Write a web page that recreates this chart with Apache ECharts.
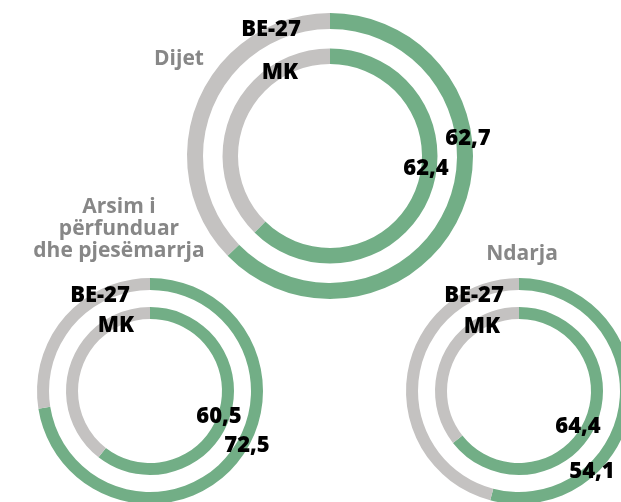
<!DOCTYPE html>
<html>
<head>
<meta charset="utf-8">
<script src="https://cdn.jsdelivr.net/npm/echarts@6/dist/echarts.min.js"></script>
<style>
  html, body { margin: 0; padding: 0; background: #fff; }
  #chart { width: 621px; height: 502px; }
</style>
</head>
<body>
<div id="chart"></div>
<script>
// te dhenat
var groups = ['Dijet', 'Arsim i\npërfunduar\ndhe pjesëmarrja', 'Ndarja'];
var ringNames = ['BE-27', 'MK'];
var be27 = [62.7, 72.5, 54.1];
var mk = [62.4, 60.5, 64.4];

var green = '#72ae86';
var grey = '#c4c2c1';
var font = '"Open Sans", "Noto Sans", sans-serif';

// vendndodhja e secilit grup (qendra, rrezet, etiketat)
var layout = [
  { c: [330, 156], outer: [127, 143], inner: [92, 107.5],
    title: [179, 59], be: [271, 30], mk: [280, 73], vBe: [468, 139], vMk: [426, 169] },
  { c: [150, 391], outer: [101, 113], inner: [72, 84],
    title: [119, 229], be: [100, 296], mk: [116, 326], vBe: [247, 446], vMk: [219, 417] },
  { c: [519, 391], outer: [101, 113], inner: [72, 84],
    title: [522, 254], be: [474, 296], mk: [482, 327], vBe: [592, 472], vMk: [578, 427] }
];

var fmt = function(v){ return String(v).replace('.', ','); };

var ring = function(name, value, center, radius){
  return {
    type: 'pie',
    name: name,
    center: center,
    radius: radius,
    startAngle: 90,
    clockwise: true,
    silent: true,
    z: 1,
    label: { show: false },
    labelLine: { show: false },
    emphasis: { disabled: true },
    itemStyle: { borderWidth: 0 },
    data: [
      { value: value, itemStyle: { color: green } },
      { value: 100 - value, itemStyle: { color: grey } }
    ]
  };
};

var series = [];
var texts = [];
var txt = function(s, pos, color, weight, size){
  return {
    type: 'text', x: pos[0], y: pos[1], silent: true, z: 100,
    style: { text: s, fill: color, font: weight + ' ' + size + 'px ' + font,
      align: 'center', verticalAlign: 'middle', lineHeight: 22 }
  };
};

for (var i = 0; i < groups.length; i++) {
  var L = layout[i];
  series.push(ring(ringNames[0], be27[i], L.c, L.outer));
  series.push(ring(ringNames[1], mk[i], L.c, L.inner));
  texts.push(txt(groups[i], L.title, '#878787', 700, 21));
  texts.push(txt(ringNames[0], L.be, '#000', 800, 22));
  texts.push(txt(ringNames[1], L.mk, '#000', 800, 22));
  texts.push(txt(fmt(be27[i]), L.vBe, '#000', 800, 22));
  texts.push(txt(fmt(mk[i]), L.vMk, '#000', 800, 22));
}

var myChart = echarts.init(document.getElementById('chart'));
myChart.setOption({
  animation: false,
  backgroundColor: '#fff',
  series: series,
  graphic: { elements: texts }
});
window.onresize = myChart.resize;
</script>
</body>
</html>
